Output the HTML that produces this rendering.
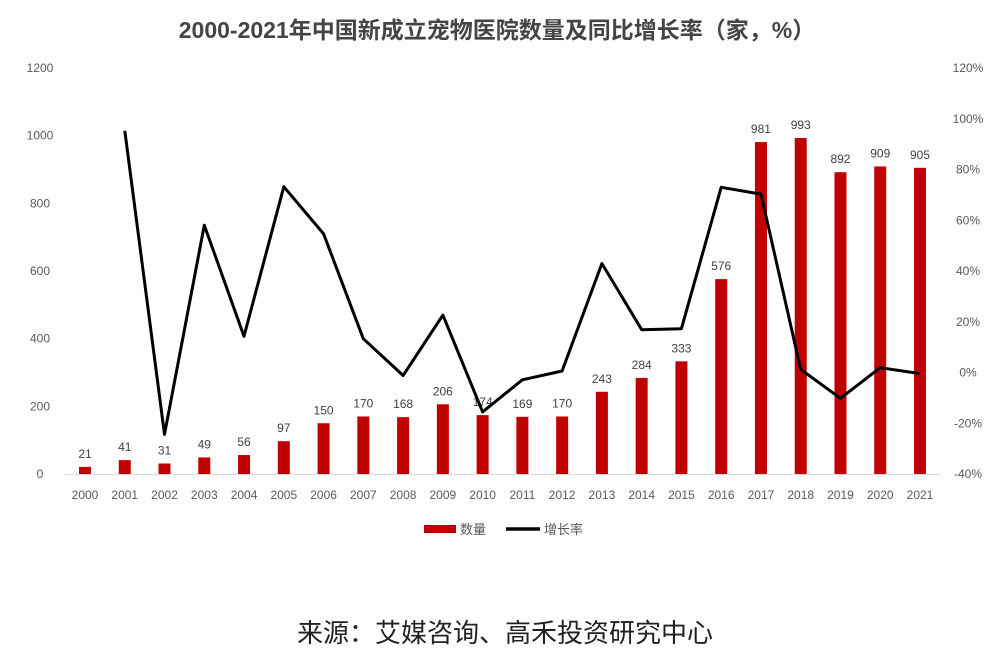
<!DOCTYPE html>
<html><head><meta charset="utf-8"><style>
html,body{margin:0;padding:0;background:#fff;}
svg{display:block;font-family:"Liberation Sans","Noto Sans CJK SC",sans-serif;}
</style></head><body>
<svg id="c" width="992" height="671" viewBox="0 0 992 671">
<text x="497" y="38" text-anchor="middle" font-size="23" font-weight="bold" fill="#444">2000-2021年中国新成立宠物医院数量及同比增长率（家，%）</text>
<line x1="65" y1="474.5" x2="940" y2="474.5" stroke="#d9d9d9" stroke-width="1"/>
<g id="g"></g>
<rect x="424" y="525" width="32" height="8" fill="#c00000"/>
<text x="460" y="534" font-size="13" fill="#595959">数量</text>
<line x1="506" y1="529" x2="540" y2="529" stroke="#000" stroke-width="3.5"/>
<text x="544" y="534" font-size="13" fill="#595959">增长率</text>
<text x="505" y="642" text-anchor="middle" font-size="26" fill="#222">来源：艾媒咨询、高禾投资研究中心</text>
</svg>
<script>
var v=[21,41,31,49,56,97,150,170,168,206,174,169,170,243,284,333,576,981,993,892,909,905];
var g=document.getElementById('g'),s='';
function yl(x){return 474-x/1200*406;}
function yr(p){return 372.5-p*253.75;}
for(var i=0;i<=6;i++){var val=i*200;s+='<text x="40" y="'+(yl(val)+4)+'" text-anchor="middle" font-size="12" fill="#595959">'+val+'</text>';}
for(var p=-40;p<=120;p+=20){s+='<text x="968" y="'+(yr(p/100)+4)+'" text-anchor="middle" font-size="12" fill="#595959">'+p+'%</text>';}
var pts=[];
for(var i=0;i<v.length;i++){var x=85+i*835/21;
s+='<rect x="'+(x-6)+'" y="'+yl(v[i])+'" width="12" height="'+(474-yl(v[i]))+'" fill="#c00000"/>';
s+='<text x="'+x+'" y="'+(yl(v[i])-9)+'" text-anchor="middle" font-size="12" fill="#404040">'+v[i]+'</text>';
s+='<text x="'+x+'" y="499" text-anchor="middle" font-size="12" fill="#595959">'+(2000+i)+'</text>';
if(i>0)pts.push(x.toFixed(1)+','+yr(v[i]/v[i-1]-1).toFixed(1));}
s+='<polyline points="'+pts.join(' ')+'" fill="none" stroke="#000" stroke-width="3" stroke-linejoin="round"/>';
g.innerHTML=s;
</script>
</body></html>
